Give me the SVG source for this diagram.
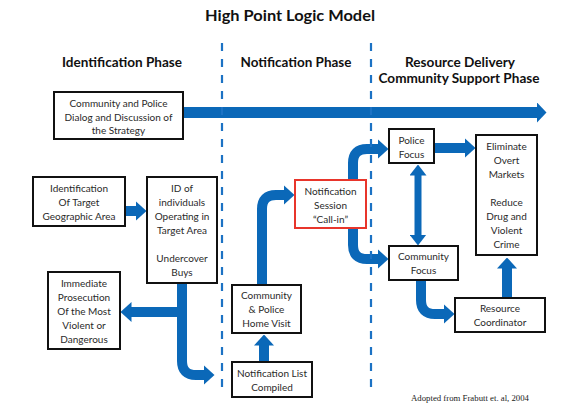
<svg xmlns="http://www.w3.org/2000/svg" width="580" height="411" viewBox="0 0 580 411">
<style>
.t{font-family:Lato,"Liberation Sans",sans-serif;font-size:10px;fill:#2a2a2a;text-anchor:middle}
.h{font-family:Lato,"Liberation Sans",sans-serif;font-size:12.5px;font-weight:bold;fill:#111;text-anchor:middle}
.box{fill:#fff;stroke:#111;stroke-width:2}
.red{fill:#fff;stroke:#e8352b;stroke-width:2}
.c{fill:none;stroke:#0b68b8;stroke-width:10}
.dash{fill:none;stroke:#1c72c4;stroke-width:2.2;stroke-dasharray:8 8}
</style>
<defs>
<marker id="hd" markerUnits="userSpaceOnUse" markerWidth="11" markerHeight="20" viewBox="0 0 11 20" refX="0.5" refY="10" orient="auto"><path d="M0,0 L11,10 L0,20 Z" fill="#0b68b8"/></marker>
<marker id="hb" markerUnits="userSpaceOnUse" markerWidth="10" markerHeight="21" viewBox="0 0 10 21" refX="0.5" refY="10.5" orient="auto"><path d="M0,0 L10,10.5 L0,21 Z" fill="#0b68b8"/></marker>
<marker id="hs" markerUnits="userSpaceOnUse" markerWidth="11" markerHeight="17" viewBox="0 0 11 17" refX="0.5" refY="8.5" orient="auto-start-reverse"><path d="M0,0 L11,8.5 L0,17 Z" fill="#0b68b8"/></marker>
</defs>
<rect width="580" height="411" fill="#fff"/>
<text x="290" y="21" class="h" style="font-size:15px" textLength="170" lengthAdjust="spacingAndGlyphs">High Point Logic Model</text>
<g id="headers">
<text x="122" y="66.5" class="h" textLength="120" lengthAdjust="spacingAndGlyphs">Identification Phase</text>
<text x="296" y="66.5" class="h" textLength="111" lengthAdjust="spacingAndGlyphs">Notification Phase</text>
<text x="460" y="66.5" class="h" textLength="110" lengthAdjust="spacingAndGlyphs">Resource Delivery</text>
<text x="459" y="82.5" class="h" textLength="161" lengthAdjust="spacingAndGlyphs">Community Support Phase</text>
</g>
<g id="connectors">
<path class="c" style="stroke-width:11" d="M183,112.5 L537,112.5" marker-end="url(#hb)"/>
<path class="c" d="M125,211 L136,211" marker-end="url(#hd)"/>
<path class="c" d="M182,283 L182,361 Q182,375 196,375 L204,375" marker-end="url(#hd)"/>
<path class="c" d="M182,312 L131,312" marker-end="url(#hd)"/>
<path class="c" d="M264,362 L264,345" marker-end="url(#hd)"/>
<path class="c" d="M262,285 L262,209 Q262,195 276,195 L284,195" marker-end="url(#hd)"/>
<path class="c" d="M353,205 L353,163 Q353,149 367,149 L378,149" marker-end="url(#hd)"/>
<path class="c" d="M353,205 L353,245 Q353,259 367,259 L378,259" marker-end="url(#hd)"/>
<path class="c" style="stroke-width:7" d="M418,175 L418,235" marker-start="url(#hs)" marker-end="url(#hs)"/>
<path class="c" d="M434,148 L465,148" marker-end="url(#hd)"/>
<path class="c" d="M421,280 L421,300 Q421,314 435,314 L444,314" marker-end="url(#hd)"/>
<path class="c" d="M507,298 L507,268" marker-end="url(#hd)"/>
</g>
<g id="dividers">
<line class="dash" x1="222" y1="43" x2="222" y2="393"/>
<line class="dash" x1="371" y1="43" x2="371" y2="393"/>
</g>
<g id="dialog">
<rect class="box" x="54" y="92" width="129" height="47"/>
<text class="t" x="118.5" y="106.5">Community and Police</text>
<text class="t" x="118.5" y="120.5">Dialog and Discussion of</text>
<text class="t" x="118.5" y="133.5">the Strategy</text>
</g>
<g id="target-area">
<rect class="box" x="33" y="177" width="92" height="49"/>
<text class="t" x="79" y="191.5">Identification</text>
<text class="t" x="79" y="205.5">Of Target</text>
<text class="t" x="79" y="219.5">Geographic Area</text>
</g>
<g id="id-individuals">
<rect class="box" x="147" y="177" width="70" height="106"/>
<text class="t" x="182" y="191.5">ID of</text>
<text class="t" x="182" y="205.5">individuals</text>
<text class="t" x="182" y="219.5">Operating in</text>
<text class="t" x="182" y="233.5">Target Area</text>
<text class="t" x="182" y="261.5">Undercover</text>
<text class="t" x="182" y="275.5">Buys</text>
</g>
<g id="prosecution">
<rect class="box" x="48" y="272" width="72" height="77"/>
<text class="t" x="84" y="286.5">Immediate</text>
<text class="t" x="84" y="300.5">Prosecution</text>
<text class="t" x="84" y="314.5">Of the Most</text>
<text class="t" x="84" y="328.5">Violent or</text>
<text class="t" x="84" y="342.5">Dangerous</text>
</g>
<g id="home-visit">
<rect class="box" x="232" y="285" width="69" height="48"/>
<text class="t" x="266.5" y="298.5">Community</text>
<text class="t" x="266.5" y="312.5">&amp; Police</text>
<text class="t" x="266.5" y="326.5">Home Visit</text>
</g>
<g id="notification-list">
<rect class="box" x="232" y="362" width="80" height="35"/>
<text class="t" x="272" y="376.5">Notification List</text>
<text class="t" x="272" y="391">Compiled</text>
</g>
<g id="notification-session">
<rect class="red" x="295" y="180" width="71" height="48"/>
<text class="t" x="330.5" y="194.5">Notification</text>
<text class="t" x="330.5" y="208.5">Session</text>
<text class="t" x="330.5" y="222.5">“Call-in”</text>
</g>
<g id="police-focus">
<rect class="box" x="389" y="129" width="45" height="34"/>
<text class="t" x="411.5" y="143.5">Police</text>
<text class="t" x="411.5" y="157.5">Focus</text>
</g>
<g id="community-focus">
<rect class="box" x="389" y="246" width="69" height="34"/>
<text class="t" x="423.5" y="259.5">Community</text>
<text class="t" x="423.5" y="273.5">Focus</text>
</g>
<g id="outcomes">
<rect class="box" x="476" y="135" width="61" height="120"/>
<text class="t" x="506.5" y="149.5">Eliminate</text>
<text class="t" x="506.5" y="163.5">Overt</text>
<text class="t" x="506.5" y="177.5">Markets</text>
<text class="t" x="506.5" y="205.5">Reduce</text>
<text class="t" x="506.5" y="219.5">Drug and</text>
<text class="t" x="506.5" y="233.5">Violent</text>
<text class="t" x="506.5" y="247.5">Crime</text>
</g>
<g id="resource-coordinator">
<rect class="box" x="455" y="298" width="90" height="34"/>
<text class="t" x="500" y="311.5">Resource</text>
<text class="t" x="500" y="325.5">Coordinator</text>
</g>
<text x="470" y="401" style="font-family:'Liberation Serif',serif;font-size:8.5px;fill:#222;text-anchor:middle" textLength="118" lengthAdjust="spacingAndGlyphs">Adopted from Frabutt et. al, 2004</text>
</svg>
